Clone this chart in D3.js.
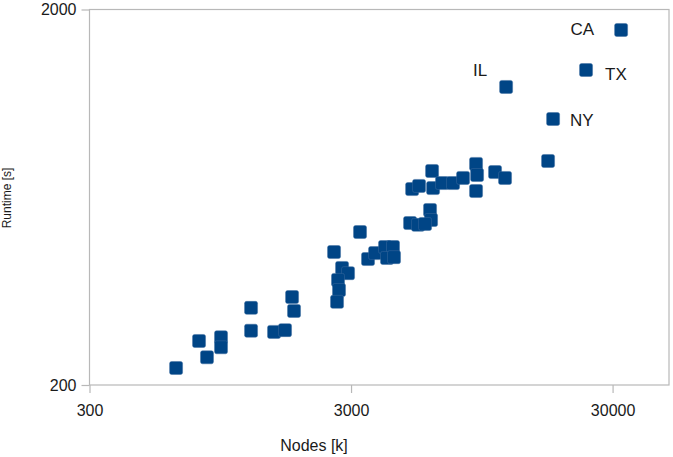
<!DOCTYPE html>
<html>
<head>
<meta charset="utf-8">
<script src="https://cdn.jsdelivr.net/npm/d3@7"></script>
<style>
  body { margin: 0; background: #fff; }
  text { font-family: "Liberation Sans", Arial, sans-serif; fill: #1a1a1a; }
</style>
</head>
<body>
<div id="chart"></div>
<script>
// nodes [k] and runtime [s]
const nodes = [643, 787, 844, 955, 955, 1244, 1244, 1523, 1678, 1785, 1816,
  2583, 2772, 2922, 2675, 2699, 2652, 3247, 3484, 3707, 4047, 4341, 4118, 4380,
  5044, 5412, 6015, 6069, 5757, 6123, 5136, 5460, 6177, 6685, 7365, 8044,
  9018, 9100, 9018, 10660, 11640, 11750, 17000, 17770, 23750, 32340];
const runtime = [222, 262, 237, 268, 252, 321, 279, 277, 280, 343, 315,
  452, 410, 397, 381, 358, 333, 511, 433, 449, 466, 466, 436, 438,
  540, 534, 585, 550, 537, 743, 665, 678, 669, 690, 690, 712,
  776, 725, 657, 738, 712, 1244, 790, 1022, 1380, 1764];
const states = ['', '', '', '', '', '', '', '', '', '', '',
  '', '', '', '', '', '', '', '', '', '', '', '', '',
  '', '', '', '', '', '', '', '', '', '', '', '',
  '', '', '', '', '', 'IL', '', 'NY', 'TX', 'CA'];

const xTicks = [300, 3000, 30000];
const yTicks = [200, 2000];
const xDomain = [300, 49300];
const yDomain = [200, 2000];

const width = 673;
const height = 457;
const plotLeft = 89.5, plotRight = 669, plotTop = 9.5, plotBottom = 385;

// where each state name sits relative to its marker
const labelPos = {
  CA: { dx: -27, dy: -1, anchor: 'end' },
  TX: { dx: 19, dy: 4, anchor: 'start' },
  IL: { dx: -19, dy: -17, anchor: 'end' },
  NY: { dx: 17, dy: 1, anchor: 'start' }
};

const data = nodes.map((n, i) => ({ n: n, t: runtime[i], name: states[i] }));

const svg = d3.select('#chart')
  .append('svg')
  .attr('width', width)
  .attr('height', height);

const x = d3.scaleLog().domain(xDomain).range([plotLeft, plotRight]);
const y = d3.scaleLog().domain(yDomain).range([plotBottom, plotTop]);

// plot frame
svg.append('rect')
  .attr('x', plotLeft)
  .attr('y', plotTop)
  .attr('width', plotRight - plotLeft)
  .attr('height', plotBottom - plotTop)
  .attr('fill', 'none')
  .attr('stroke', '#b8b8b8')
  .attr('stroke-width', 1.2);

const xAxis = svg.append('g')
  .attr('transform', `translate(0, ${plotBottom})`)
  .call(d3.axisBottom(x).tickValues(xTicks).tickFormat(d3.format('d')).tickSize(8).tickSizeOuter(0).tickPadding(12));

const yAxis = svg.append('g')
  .attr('transform', `translate(${plotLeft}, 0)`)
  .call(d3.axisLeft(y).tickValues(yTicks).tickFormat(d3.format('d')).tickSize(8).tickSizeOuter(0).tickPadding(5));

[xAxis, yAxis].forEach(g => {
  g.select('.domain').remove();
  g.selectAll('line').attr('stroke', '#b8b8b8').attr('stroke-width', 1.2);
  g.selectAll('text').style('font-size', '16px').attr('fill', '#1a1a1a');
});

// markers
const size = 13;
svg.append('g')
  .selectAll('rect')
  .data(data)
  .join('rect')
  .attr('x', d => x(d.n) - size / 2)
  .attr('y', d => y(d.t) - size / 2)
  .attr('width', size)
  .attr('height', size)
  .attr('rx', 2)
  .attr('fill', '#004586')
  .attr('stroke', '#3f6ea0')
  .attr('stroke-opacity', 0.6)
  .attr('stroke-width', 0.8);

// state labels
svg.append('g')
  .selectAll('text')
  .data(data.filter(d => d.name))
  .join('text')
  .attr('x', d => x(d.n) + labelPos[d.name].dx)
  .attr('y', d => y(d.t) + labelPos[d.name].dy)
  .attr('dy', '0.35em')
  .attr('text-anchor', d => labelPos[d.name].anchor)
  .style('font-size', '17px')
  .text(d => d.name);

// axis titles
svg.append('text')
  .attr('x', 314)
  .attr('y', 451)
  .attr('text-anchor', 'middle')
  .style('font-size', '16px')
  .text('Nodes [k]');

svg.append('text')
  .attr('transform', 'translate(11, 198) rotate(-90)')
  .attr('text-anchor', 'middle')
  .style('font-size', '12px')
  .text('Runtime [s]');
</script>
</body>
</html>
